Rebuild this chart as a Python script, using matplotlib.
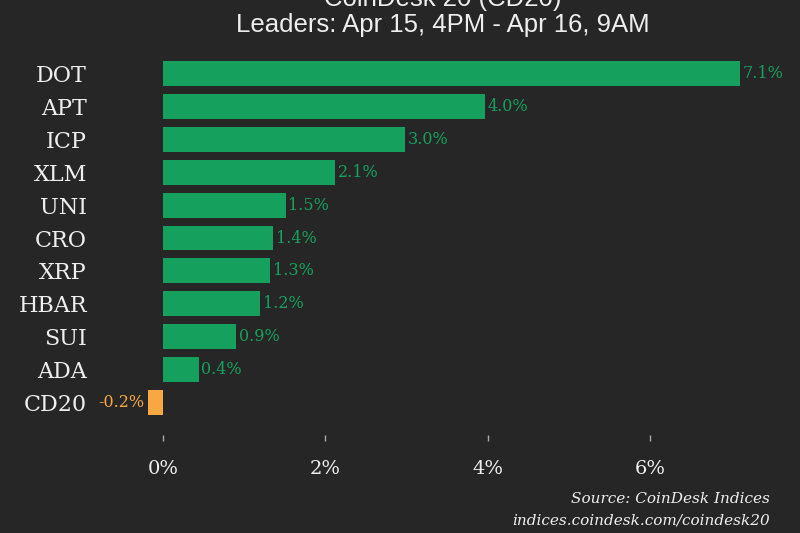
"""
plot.py

CoinDesk 20 leaders bar chart, dark theme.
"""

import matplotlib
matplotlib.use("Agg")
import matplotlib.pyplot as plt
from matplotlib.ticker import FuncFormatter

tickers = ["DOT", "APT", "ICP", "XLM", "UNI", "CRO", "XRP", "HBAR", "SUI", "ADA", "CD20"]
changes = [7.1, 3.96, 2.98, 2.12, 1.51, 1.36, 1.32, 1.2, 0.9, 0.44, -0.18]
x_ticks = [0, 2, 4, 6]

title_top = "CoinDesk 20 (CD20)"
title_sub = "Leaders: Apr 15, 4PM - Apr 16, 9AM"
source_lines = ["Source: CoinDesk Indices", "indices.coindesk.com/coindesk20"]

BG = "#262626"
GREEN = "#16a05e"
ORANGE = "#f8a843"
TEXT = "#eeeeee"

fig = plt.figure(figsize=(8, 5.33), dpi=100, facecolor=BG)
ax = fig.add_axes([0.1225, 1 - 435 / 533, 0.8425, (435 - 41) / 533])
ax.set_facecolor(BG)

colors = [GREEN if v >= 0 else ORANGE for v in changes]
ypos = list(range(len(tickers)))
ax.barh(ypos, changes, height=0.76, color=colors)

for y, v, c in zip(ypos, changes, colors):
    label = f"{v:.1f}%"
    if v >= 0:
        ax.annotate(label, (v, y), xytext=(2, 0), textcoords="offset points",
                    ha="left", va="center", color=c, fontsize=11.5, family="DejaVu Serif")
    else:
        ax.annotate(label, (v, y), xytext=(-3, 0), textcoords="offset points",
                    ha="right", va="center", color=c, fontsize=11.5, family="DejaVu Serif")

ax.set_ylim(11, -1)
ax.set_xlim(-0.8, 7.5)
ax.set_yticks(ypos)
ax.set_yticklabels(tickers, family="DejaVu Serif", fontsize=16, color=TEXT)
ax.tick_params(axis="y", length=0, pad=8)

ax.set_xticks(x_ticks)
ax.xaxis.set_major_formatter(FuncFormatter(lambda v, _: f"{v:.0f}%"))
for lbl in ax.get_xticklabels():
    lbl.set_family("DejaVu Serif")
ax.tick_params(axis="x", length=4, width=1, color="#aaaaaa", labelcolor=TEXT,
               labelsize=14, pad=14)

for s in ax.spines.values():
    s.set_visible(False)

# the first title line sits partly above the top edge, as in the source image
fig.text(0.554, 1 - 6 / 533, title_top, ha="center", va="baseline",
         fontsize=18.5, color=TEXT, family="Liberation Sans")
fig.text(0.554, 1 - 32 / 533, title_sub, ha="center", va="baseline",
         fontsize=18.5, color=TEXT, family="Liberation Sans")

fig.text(0.9625, 1 - 503 / 533, source_lines[0], ha="right", va="baseline",
         fontsize=11, color=TEXT, family="DejaVu Serif", style="italic")
fig.text(0.9625, 1 - 525 / 533, source_lines[1], ha="right", va="baseline",
         fontsize=11, color=TEXT, family="DejaVu Serif", style="italic")

fig.savefig("out.png", dpi=100, facecolor=BG)
plt.close(fig)
